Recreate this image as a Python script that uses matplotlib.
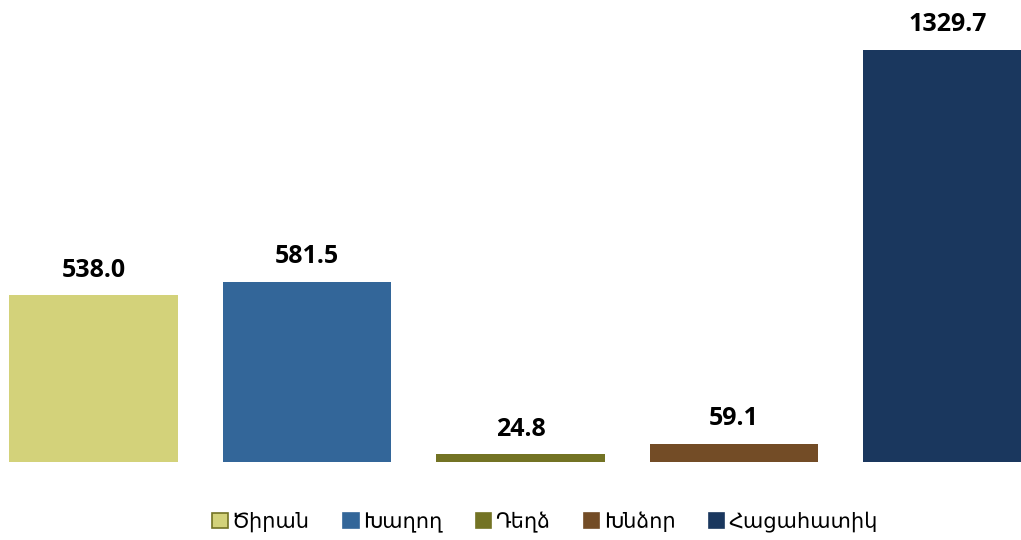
import matplotlib.pyplot as plt
from matplotlib.patches import Patch

categories = ['Ծիրան', 'Խաղող', 'Դեղձ', 'Խնձոր', 'Հացահատիկ']
values = [538.0, 581.5, 24.8, 59.1, 1329.7]
colors = ['#D3D27A', '#336699', '#737324', '#734C26', '#1A375E']

fig = plt.figure(figsize=(10.21, 5.4), dpi=100)
ax = fig.add_axes([0, 1 - 462 / 540, 1, 462 / 540])

x = list(range(len(values)))
bars = ax.bar(x, values, width=0.79, color=colors)
ax.set_xlim(-93.5 / 213.5, (1021 - 93.5) / 213.5)
ax.set_ylim(0, 462 / (412 / 1329.7))

for b, v in zip(bars, values):
    ax.annotate(f'{v:.1f}', (b.get_x() + b.get_width() / 2, v),
                xytext=(0, 9), textcoords='offset points',
                ha='center', va='bottom', fontsize=18, fontweight='bold',
                family=['Open Sans', 'DejaVu Sans'])

ax.set_axis_off()

handles = [Patch(facecolor=c, edgecolor=('#737324' if i == 0 else c), lw=1.2)
           for i, c in enumerate(colors)]
fig.legend(handles, categories, loc='center', bbox_to_anchor=(545 / 1021, 1 - 522 / 540),
           ncol=5, frameon=False, prop={'family': ['DejaVu Sans'], 'size': 15},
           handlelength=0.75, handleheight=0.75, handletextpad=0.2, columnspacing=1.6)

fig.savefig('out.png', dpi=100)
